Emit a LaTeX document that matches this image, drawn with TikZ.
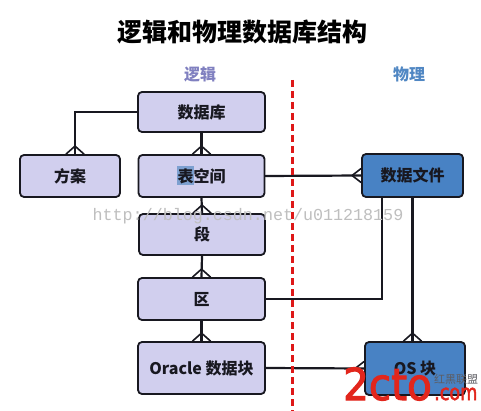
\documentclass[tikz,border=0pt]{standalone}
\usepackage{fontspec}
\usetikzlibrary{calc}
\setmainfont{Noto Sans CJK SC}
\newfontfamily\wmfont{Liberation Mono}
\newfontfamily\logofont[FakeBold=2.5]{DejaVu Sans}
\definecolor{lav}{RGB}{209,207,238}
\definecolor{phys}{RGB}{72,130,196}
\definecolor{ink}{RGB}{24,24,32}
\definecolor{logred}{RGB}{128,128,192}
\definecolor{physlab}{RGB}{80,135,195}
\definecolor{divred}{RGB}{222,24,24}
\definecolor{logored}{RGB}{226,38,28}
\definecolor{hilite}{RGB}{125,160,208}
\tikzset{
  x=1pt,y=-1pt,
  box/.style={draw=ink,line width=1.8pt,rounded corners=4pt,fill=lav,minimum width=#1,inner sep=0pt,text=ink,font=\fontsize{16}{16}\selectfont\bfseries},
  box/.default=126pt,
  conn/.style={draw=ink,line width=2.2pt,line cap=round},
  thin conn/.style={draw=ink,line width=1.5pt},
  foot/.style={draw=ink,line width=1.6pt},
  head/.style={font=\fontsize{16}{16}\selectfont\bfseries},
}
\begin{document}
\begin{tikzpicture}
\useasboundingbox (0,0) rectangle (481,411);
\fill[white] (0,0) rectangle (481,411);
\node[font=\fontsize{25}{25}\selectfont\bfseries,text=black] (title) at (242,32) {逻辑和物理数据库结构};
\node[head,text=logred] (llab) at (200,74) {逻辑};
\node[head,text=physlab] (plab) at (409,74) {物理};
\coordinate (dtop) at (292.5,80);
\coordinate (dbot) at (292.5,411);

\node[box=127pt,minimum height=40pt] (db) at (201.5,112) {数据库};
\node[box=100pt,minimum height=42pt] (fa) at (70,176) {方案};
\node[box=126pt,minimum height=42pt,path picture={\fill[hilite,sharp corners] ($(path picture bounding box.center)+(-25,-9.5)$) rectangle ($(path picture bounding box.center)+(-8,9.5)$);}] (ts) at (201.5,176) {表空间};
\node[box=126pt,minimum height=41pt] (seg) at (202,234.5) {段};
\node[box=127pt,minimum height=42pt] (ext) at (201.5,299) {区};
\node[box=127pt,minimum height=52pt] (blk) at (201.5,368) {Oracle 数据块};
\node[box=101pt,minimum height=43pt,fill=phys] (df) at (412.5,175.5) {数据文件};
\node[box=100pt,minimum height=53pt,fill=phys] (os) at (415,368.5) {OS 块};

% connectors
\draw[conn] (db.west) -| ($(fa.north)+(5,0)$) coordinate (faup);
\draw[foot] ($(faup)+(0,-8)$) -- ($(faup)+(-9,0)$) ($(faup)+(0,-8)$) -- ($(faup)+(9,0)$);
\draw[conn] (db.south) -- (ts.north);
\draw[foot] ($(ts.north)+(0,-8)$) -- ($(ts.north)+(-9,0)$) ($(ts.north)+(0,-8)$) -- ($(ts.north)+(9,0)$);
\draw[conn] (ts.south) -- (seg.north);
\draw[foot] ($(seg.north)+(0,-8)$) -- ($(seg.north)+(-9,0)$) ($(seg.north)+(0,-8)$) -- ($(seg.north)+(9,0)$);
\draw[conn] (seg.south) -- (ext.north);
\draw[foot] ($(ext.north)+(0,-8)$) -- ($(ext.north)+(-9,0)$) ($(ext.north)+(0,-8)$) -- ($(ext.north)+(9,0)$);
\draw[conn] (ext.south) -- (blk.north);
\draw[foot] ($(blk.north)+(0,-8)$) -- ($(blk.north)+(-9,0)$) ($(blk.north)+(0,-8)$) -- ($(blk.north)+(9,0)$);
\draw[conn] (ts.east) -- (df.west);
\draw[foot] ($(df.west)+(-9,0)$) -- ($(df.west)+(0,-7)$) ($(df.west)+(-9,0)$) -- ($(df.west)+(0,7)$);
\draw[conn] (blk.east) -- (os.west);
\draw[foot] ($(os.west)+(-9,0)$) -- ($(os.west)+(0,-7)$) ($(os.west)+(-9,0)$) -- ($(os.west)+(0,7)$);
\draw[thin conn] (ext.east) -| ($(df.south)+(-30.5,0)$);
\draw[conn] (df.south) -- (df.south |- os.north);
\draw[foot] ($(df.south |- os.north)+(0,-8)$) -- ($(df.south |- os.north)+(-9,0)$) ($(df.south |- os.north)+(0,-8)$) -- ($(df.south |- os.north)+(9,0)$);

% divider
\draw[divred,line width=2.6pt,dash pattern=on 7pt off 4pt] (dtop) -- (dbot);

% watermarks
\node[text=black!25,font=\wmfont\fontsize{16.7}{16.7}\selectfont,inner sep=0pt] (wm) at (248,216) {http://blog.csdn.net/u011218159};
\node[text=logored,font=\logofont\fontsize{44}{44}\selectfont,inner sep=0pt,anchor=base west,xscale=.92,transform shape] (logo) at (343,400) {2cto};
\node[text=logored,font=\logofont\fontsize{22}{22}\selectfont,inner sep=0pt,anchor=base west,xscale=.8,transform shape] (com) at (434,400) {.com};
\node[text=ink!70,font=\fontsize{11}{11}\selectfont,inner sep=0pt] (hh) at (456,379) {红黑联盟};
\end{tikzpicture}
\end{document}
